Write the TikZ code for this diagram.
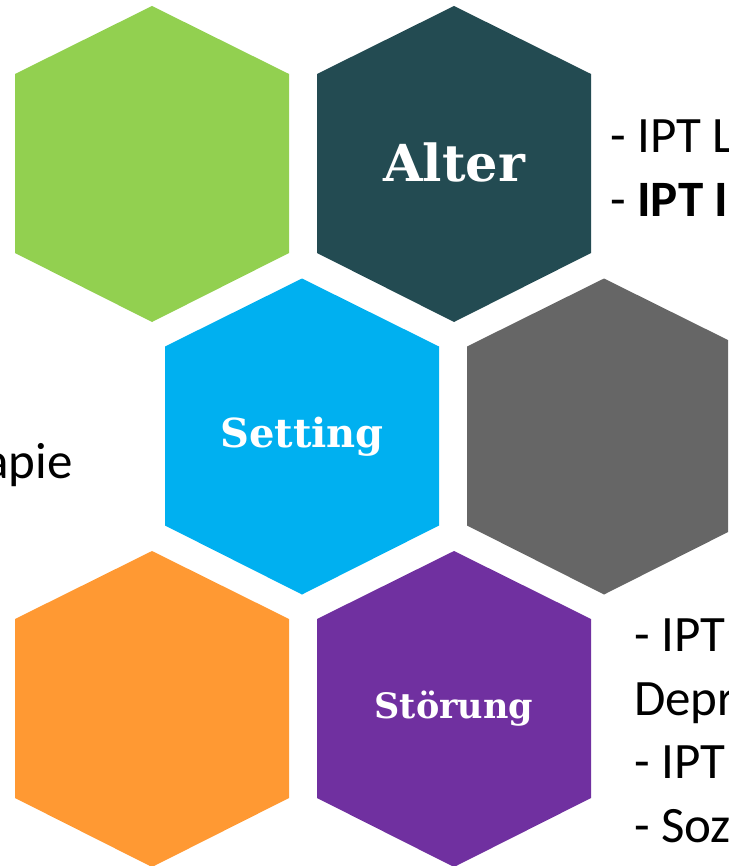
\documentclass[tikz,border=0pt]{standalone}
\usepackage{fontspec}
\setmainfont{Carlito}
\newfontfamily\hexfont{DejaVu Serif}
\usepackage{xcolor}
\definecolor{hexgreen}{HTML}{92D050}
\definecolor{hexteal}{HTML}{234B52}
\definecolor{hexblue}{HTML}{00B0F0}
\definecolor{hexgray}{HTML}{666666}
\definecolor{hexorange}{HTML}{FF9933}
\definecolor{hexpurple}{HTML}{7030A0}
\tikzset{
  hexlabel/.style={text=white, inner sep=0pt},
  liste/.style={font=\fontsize{51}{63.5}\selectfont, align=left, inner sep=0pt, anchor=north west}
}

\begin{document}
\begin{tikzpicture}[x=1pt,y=-1pt]
\useasboundingbox (0,0) rectangle (728,866);
\clip (0,0) rectangle (728,866);
% waben
\foreach \farbe/\mx/\my in {hexgreen/152/164, hexteal/454/164, hexblue/302/436.5,
    hexgray/604/436.5, hexorange/152/709, hexpurple/454/709} {
 \fill[\farbe] (\mx,\my) ++(0,-158) --++(137,68) --++(0,179) --++(-137,69)
   --++(-137,-69) --++(0,-179) -- cycle;
}
\node[hexlabel, font=\hexfont\bfseries\fontsize{51}{60}\selectfont] (alter) at (454,162) {Alter};
\node[hexlabel, font=\hexfont\bfseries\fontsize{40}{48}\selectfont] (setting) at (302,436.5) {Setting};
\node[hexlabel, font=\hexfont\bfseries\fontsize{35}{42}\selectfont] (stoerung) at (454,709) {Störung};
% texte
\node[liste] (altertext) at (610,120) {- IPT L\\- \textbf{IPT I}};
\node[liste] (stoerungtext) at (634,619) {- IPT\\Depr\\- IPT\\- Soz};
\node[font=\fontsize{51}{63.5}\selectfont, inner sep=0pt, anchor=base east] (settingtext) at (73,478) {apie};
\end{tikzpicture}
\end{document}
